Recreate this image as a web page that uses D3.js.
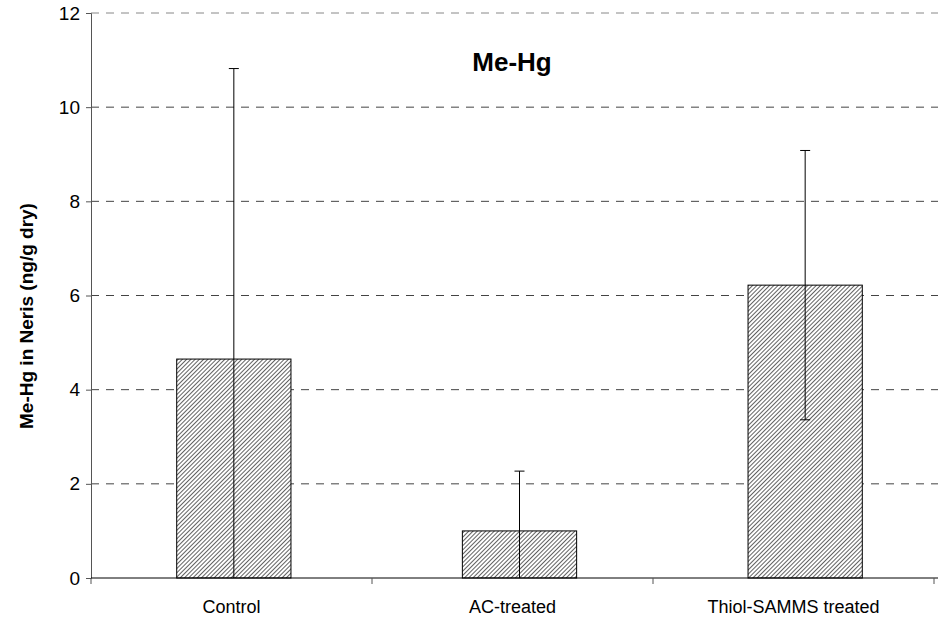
<!DOCTYPE html>
<html>
<head>
<meta charset="utf-8">
<script src="https://cdn.jsdelivr.net/npm/d3@7"></script>
<style>
  body { margin: 0; background: #fff; }
  text { font-family: "Liberation Sans", Arial, sans-serif; }
</style>
</head>
<body>
<div id="chart"></div>
<script>
// data
var categories = ["Control", "AC-treated", "Thiol-SAMMS treated"];
var means = [4.65, 1.0, 6.22];
var errors = [6.17, 1.27, 2.86];
var yTicks = [0, 2, 4, 6, 8, 10, 12];

var width = 938, height = 624;
var margin = {top: 13, right: -10, bottom: 46, left: 91},
    plotW = width - margin.left - margin.right,
    plotH = height - margin.top - margin.bottom,
    axisW = 843;

var svg = d3.select("#chart")
  .append("svg")
    .attr("width", width)
    .attr("height", height);

// hatch pattern for bars
var defs = svg.append("defs");
defs.append("pattern")
    .attr("id", "hatch")
    .attr("patternUnits", "userSpaceOnUse")
    .attr("width", 3)
    .attr("height", 3)
    .attr("patternTransform", "rotate(45)")
  .call(function(p) {
    p.append("rect").attr("width", 3).attr("height", 3).attr("fill", "#fff");
    p.append("line")
      .attr("x1", 0).attr("y1", 0).attr("x2", 0).attr("y2", 3)
      .attr("stroke", "#3a3a3a").attr("stroke-width", 1.6);
  });

var g = svg.append("g")
    .attr("transform", "translate(" + margin.left + "," + margin.top + ")");

// bars scale
var x = d3.scaleBand()
  .domain(categories)
  .range([0, plotW])
  .paddingInner(0.6)
  .paddingOuter(0.3);

// category axis (labels sit on the visible axis width)
var xLab = d3.scaleBand()
  .domain(categories)
  .range([0, axisW]);

var y = d3.scaleLinear()
  .domain([0, 12])
  .range([plotH, 0]);

// dashed gridlines
g.selectAll(".grid")
  .data(yTicks.filter(function(d) { return d > 0; }))
  .enter().append("line")
    .attr("class", "grid")
    .attr("x1", 0)
    .attr("x2", plotW)
    .attr("y1", function(d) { return y(d); })
    .attr("y2", function(d) { return y(d); })
    .attr("stroke", function(d) { return d === 12 ? "#888" : "#444"; })
    .attr("stroke-width", 1)
    .attr("stroke-dasharray", "8,7");

// bars
g.selectAll(".bar")
  .data(categories)
  .enter().append("rect")
    .attr("class", "bar")
    .attr("x", function(d) { return x(d); })
    .attr("width", x.bandwidth())
    .attr("y", function(d, i) { return y(means[i]); })
    .attr("height", function(d, i) { return plotH - y(means[i]); })
    .attr("fill", "url(#hatch)")
    .attr("stroke", "#000")
    .attr("stroke-width", 1);

// error bars (clipped at zero)
var capW = 5;
categories.forEach(function(c, i) {
  var cx = x(c) + x.bandwidth() / 2;
  var hi = means[i] + errors[i], lo = means[i] - errors[i];
  g.append("line")
    .attr("x1", cx).attr("x2", cx)
    .attr("y1", y(hi)).attr("y2", y(Math.max(lo, 0)))
    .attr("stroke", "#000");
  g.append("line")
    .attr("x1", cx - capW).attr("x2", cx + capW)
    .attr("y1", y(hi)).attr("y2", y(hi))
    .attr("stroke", "#000");
  if (lo > 0) {
    g.append("line")
      .attr("x1", cx - capW).attr("x2", cx + capW)
      .attr("y1", y(lo)).attr("y2", y(lo))
      .attr("stroke", "#000");
  }
});

// y axis
var yAxis = g.append("g")
  .call(d3.axisLeft(y).tickValues(yTicks).tickSize(5).tickPadding(6).tickFormat(d3.format("d")));
yAxis.select(".domain").attr("stroke", "#555");
yAxis.selectAll(".tick line").attr("stroke", "#555");
yAxis.selectAll("text").style("font-size", "19px").attr("fill", "#000");

// x axis
var xAxis = g.append("g")
  .attr("transform", "translate(0," + plotH + ")")
  .call(d3.axisBottom(xLab).tickSize(0).tickPadding(22));
xAxis.select(".domain").remove();
xAxis.append("line")
  .attr("x1", 0).attr("x2", plotW)
  .attr("stroke", "#000");
xAxis.selectAll(".sep")
  .data(d3.range(categories.length + 1))
  .enter().append("line")
    .attr("class", "sep")
    .attr("x1", function(d) { return d * xLab.step(); })
    .attr("x2", function(d) { return d * xLab.step(); })
    .attr("y1", 0).attr("y2", 6)
    .attr("stroke", "#555");
xAxis.selectAll("text").style("font-size", "18px").attr("fill", "#000");

// title
g.append("text")
  .text("Me-Hg")
  .attr("x", 421)
  .attr("y", 58)
  .style("text-anchor", "middle")
  .style("font-size", "26px")
  .style("font-weight", "bold");

// y label
svg.append("text")
  .text("Me-Hg in Neris (ng/g dry)")
  .attr("transform", "translate(33,316) rotate(-90)")
  .style("text-anchor", "middle")
  .style("font-size", "19px")
  .style("font-weight", "bold");
</script>
</body>
</html>
